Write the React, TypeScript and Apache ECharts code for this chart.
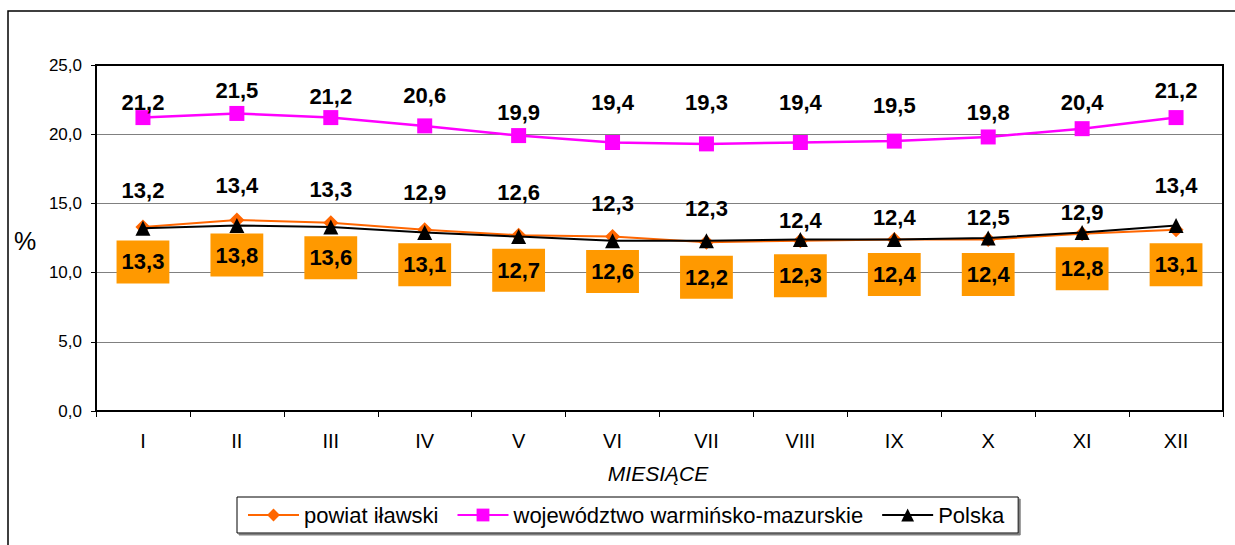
import React, { useEffect, useRef } from "react";
import * as echarts from "echarts";

const months = ["I", "II", "III", "IV", "V", "VI", "VII", "VIII", "IX", "X", "XI", "XII"];
const powiat = [13.3, 13.8, 13.6, 13.1, 12.7, 12.6, 12.2, 12.3, 12.4, 12.4, 12.8, 13.1];
const wojewodztwo = [21.2, 21.5, 21.2, 20.6, 19.9, 19.4, 19.3, 19.4, 19.5, 19.8, 20.4, 21.2];
const polska = [13.2, 13.4, 13.3, 12.9, 12.6, 12.3, 12.3, 12.4, 12.4, 12.5, 12.9, 13.4];
const yTicks = { min: 0, max: 25, interval: 5 };

// label vertical shifts (px) as placed in the original chart
const wojLabelShift = [-15, -23, -21, -30, -23, -40, -41, -40, -36, -24, -26, -27];
const polskaLabelShift = [-38, -40, -37, -40, -44, -37, -32, -19, -22, -21, -20, -40];

const FONT = "'Liberation Sans', Arial, sans-serif";
const fmt = (v: number) => v.toFixed(1).replace(".", ",");

export default function App() {
  const ref = useRef<HTMLDivElement>(null);
  useEffect(() => {
    document.body.style.margin = "0";
    document.body.style.overflow = "hidden";
    if (!ref.current) return;
    const chart = echarts.init(ref.current, undefined, { renderer: "svg" });
    const labelFmt = (p: any) => fmt(p.value as number);
    const boldLabel = {
      show: true,
      position: "inside",
      formatter: labelFmt,
      fontFamily: FONT,
      fontSize: 22,
      fontWeight: "bold",
      color: "#000",
    };
    chart.setOption({
      animation: false,
      textStyle: { fontFamily: FONT },
      grid: {
        left: 96,
        top: 65,
        right: 12,
        bottom: 134,
      },
      legend: {
        left: 237,
        top: 497,
        width: 840,
        padding: [7, 14, 7, 10],
        borderColor: "#000",
        borderWidth: 1,
        backgroundColor: "#fff",
        shadowColor: "#808080",
        shadowBlur: 0,
        shadowOffsetX: 2,
        shadowOffsetY: 2,
        itemWidth: 51,
        itemHeight: 16,
        itemGap: 18,
        textStyle: { fontFamily: FONT, fontSize: 22, color: "#000" },
        data: ["powiat iławski", "województwo warmińsko-mazurskie", "Polska"],
      },
      xAxis: {
        type: "category",
        data: months,
        boundaryGap: true,
        axisLine: { lineStyle: { color: "#000", width: 2 } },
        axisTick: { show: true, length: 6, lineStyle: { color: "#000", width: 1 } },
        axisLabel: { fontFamily: FONT, fontSize: 20, color: "#000", margin: 20 },
      },
      yAxis: {
        type: "value",
        min: yTicks.min,
        max: yTicks.max,
        interval: yTicks.interval,
        axisLine: { show: true, lineStyle: { color: "#000", width: 2 } },
        axisTick: { show: true, length: 5, lineStyle: { color: "#000" } },
        axisLabel: {
          fontFamily: FONT,
          fontSize: 17,
          color: "#000",
          margin: 14,
          formatter: (v: number) => fmt(v),
        },
        splitLine: {
          show: true,
          lineStyle: { color: ["#000", "#808080", "#808080", "#808080", "#808080", "#000"], width: 1 },
        },
      },
      series: [
        {
          name: "powiat iławski",
          type: "line",
          data: powiat,
          symbol: "diamond",
          symbolSize: 15,
          lineStyle: { color: "#FF6600", width: 2 },
          itemStyle: { color: "#FF6600" },
          z: 3,
          label: {
            ...boldLabel,
            offset: [0, 35],
            backgroundColor: "#FF9900",
            padding: [10, 5, 9, 5],
            lineHeight: 24,
          },
        },
        {
          name: "województwo warmińsko-mazurskie",
          type: "line",
          data: wojewodztwo.map((v, i) => ({
            value: v,
            label: { offset: [0, wojLabelShift[i]] },
          })),
          symbol: "rect",
          symbolSize: 15,
          lineStyle: { color: "#FF00FF", width: 2.5 },
          itemStyle: { color: "#FF00FF" },
          label: { ...boldLabel },
        },
        {
          name: "Polska",
          type: "line",
          data: polska.map((v, i) => ({
            value: v,
            label: { offset: [0, polskaLabelShift[i]] },
          })),
          symbol: "triangle",
          symbolSize: 15,
          lineStyle: { color: "#000", width: 2 },
          itemStyle: { color: "#000" },
          z: 4,
          label: { ...boldLabel },
        },
      ],
      graphic: [
        {
          type: "rect",
          shape: { x: 8, y: 11, width: 1400, height: 700 },
          style: { fill: "none", stroke: "#000", lineWidth: 1.5 },
          silent: true,
        },
        {
          type: "rect",
          shape: { x: 96, y: 65, width: 1127, height: 346 },
          style: { fill: "none", stroke: "#000", lineWidth: 2 },
          silent: true,
          z: 10,
        },
        {
          type: "text",
          x: 25,
          y: 241,
          style: {
            text: "%",
            fontFamily: FONT,
            fontSize: 25,
            fill: "#000",
            textAlign: "center",
            textVerticalAlign: "middle",
          },
        },
        {
          type: "text",
          x: 658,
          y: 473,
          style: {
            text: "MIESIĄCE",
            fontFamily: FONT,
            fontSize: 21,
            fontStyle: "italic",
            fill: "#000",
            textAlign: "center",
            textVerticalAlign: "middle",
          },
        },
      ],
    });
    return () => chart.dispose();
  }, []);
  return <div ref={ref} style={{ width: 1235, height: 545 }} />;
}
